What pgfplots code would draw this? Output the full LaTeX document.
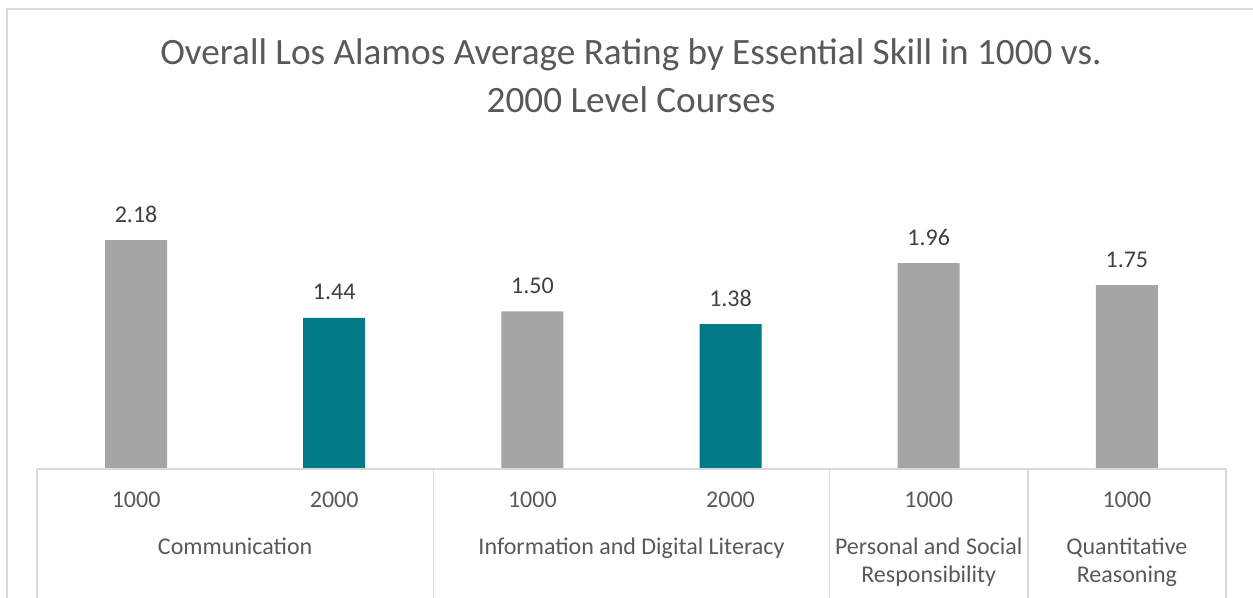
\documentclass[border=0pt]{standalone}
\usepackage{pgfplots}
\pgfplotsset{compat=1.18}
\usepackage{fontspec}
\setmainfont{Carlito}
\definecolor{txt}{HTML}{595959}
\definecolor{lbl}{HTML}{404040}
\definecolor{barg}{HTML}{A5A5A5}
\definecolor{tealc}{HTML}{007A87}
\definecolor{linec}{HTML}{D9D9D9}
\tikzset{
  lab/.style={anchor=base, text=txt, inner sep=0, font=\fontsize{24bp}{29bp}\selectfont},
  sepl/.style={draw=linec, line width=1.5bp},
}
\begin{document}
\begin{tikzpicture}[x=1bp,y=1bp]
\path[use as bounding box] (0,0) rectangle (1253,598);
\draw[linec, line width=1.5bp] (7,0) -- (7,589) -- (1253,589);
\node[anchor=base, text=txt, inner sep=0, font=\fontsize{37.2bp}{45bp}\selectfont] at (631,533) {Overall Los Alamos Average Rating by Essential Skill in 1000 vs.};
\node[anchor=base, text=txt, inner sep=0, font=\fontsize{37.2bp}{45bp}\selectfont] at (631,485) {2000 Level Courses};
\begin{axis}[
  at={(37bp,129bp)}, anchor=south west,
  width=1189bp, height=315bp, scale only axis,
  xmin=-0.5, xmax=5.5, ymin=0, ymax=3,
  hide axis, clip=false,
  ybar, bar width=62bp,
  nodes near coords,
  every node near coord/.append style={/pgf/number format/fixed, /pgf/number format/fixed zerofill, /pgf/number format/precision=2, /pgf/number format/assume math mode=true, text=lbl, inner sep=0pt, yshift=17.6bp, font=\fontsize{24bp}{29bp}\selectfont},
]
\addplot[fill=barg, draw=none, bar shift=0pt] coordinates {(0,2.18) (2,1.50) (4,1.96) (5,1.75)};
\addplot[fill=tealc, draw=none, bar shift=0pt] coordinates {(1,1.44) (3,1.38)};
\draw[sepl] (axis cs:-0.5,0) -- (axis cs:5.5,0);
\draw[sepl] (axis cs:-0.5,0) -- (axis cs:-0.5,-1.35);
\draw[sepl] (axis cs:1.5,0) -- (axis cs:1.5,-1.35);
\draw[sepl] (axis cs:3.5,0) -- (axis cs:3.5,-1.35);
\draw[sepl] (axis cs:4.5,0) -- (axis cs:4.5,-1.35);
\draw[sepl] (axis cs:5.5,0) -- (axis cs:5.5,-1.35);
\node[lab] at (axis cs:0,0) [yshift=-39bp] {1000};
\node[lab] at (axis cs:1,0) [yshift=-39bp] {2000};
\node[lab] at (axis cs:2,0) [yshift=-39bp] {1000};
\node[lab] at (axis cs:3,0) [yshift=-39bp] {2000};
\node[lab] at (axis cs:4,0) [yshift=-39bp] {1000};
\node[lab] at (axis cs:5,0) [yshift=-39bp] {1000};
\node[lab] at (axis cs:0.5,0) [yshift=-86bp] {Communication};
\node[lab] at (axis cs:2.5,0) [yshift=-86bp] {Information and Digital Literacy};
\node[lab] at (axis cs:4,0) [yshift=-86bp] {Personal and Social};
\node[lab] at (axis cs:4,0) [yshift=-114bp] {Responsibility};
\node[lab] at (axis cs:5,0) [yshift=-86bp] {Quantitative};
\node[lab] at (axis cs:5,0) [yshift=-114bp] {Reasoning};
\end{axis}
\end{tikzpicture}
\end{document}
